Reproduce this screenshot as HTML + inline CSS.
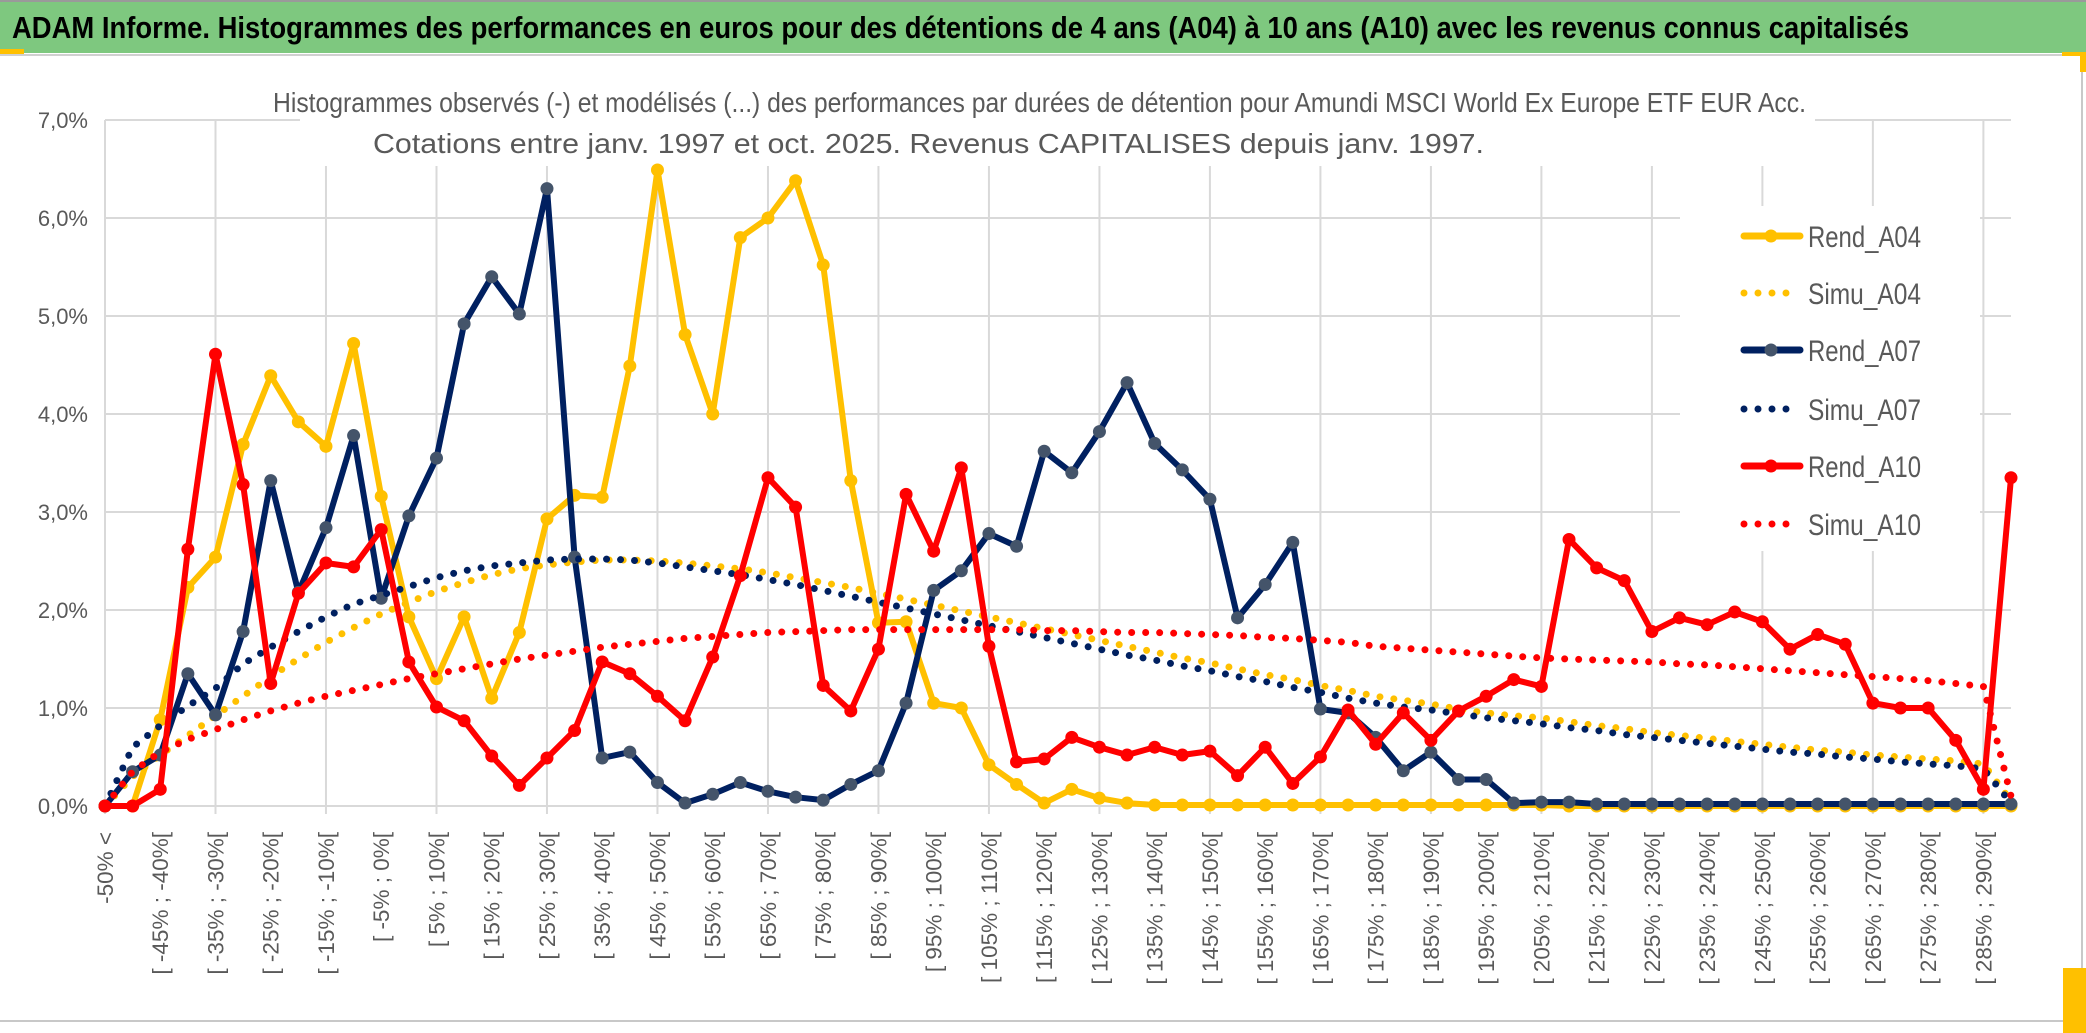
<!DOCTYPE html>
<html><head><meta charset="utf-8"><style>
html,body{margin:0;padding:0;background:#fff;}
svg{display:block;font-family:"Liberation Sans",sans-serif;}
</style></head><body>
<svg id="chart" width="2086" height="1033" viewBox="0 0 2086 1033" xmlns="http://www.w3.org/2000/svg">
<rect x="0" y="0" width="2086" height="1033" fill="#fff"/>
<rect x="0" y="0" width="2086" height="53" fill="#7ec87f"/>
<line x1="0" y1="1" x2="2086" y2="1" stroke="#9a9a9a" stroke-width="2"/>
<rect x="0" y="49" width="24" height="5" fill="#ffc000"/>
<line x1="0" y1="55" x2="2080" y2="55" stroke="#d0d0d0" stroke-width="2"/>
<line x1="2082" y1="55" x2="2082" y2="1020" stroke="#c8c8c8" stroke-width="2"/>
<line x1="0" y1="1021" x2="2075" y2="1021" stroke="#c8c8c8" stroke-width="2"/>
<rect x="2063" y="968" width="23" height="65" fill="#ffc000"/>
<rect x="2062" y="52" width="24" height="4" fill="#ffc000"/>
<rect x="2080" y="52" width="6" height="20" fill="#ffc000"/>
<text x="12" y="38" font-size="31" font-weight="bold" fill="#000" textLength="1897" lengthAdjust="spacingAndGlyphs">ADAM Informe. Histogrammes des performances en euros pour des détentions de 4 ans (A04) à 10 ans (A10) avec les revenus connus capitalisés</text>
<g id="grid"></g>
<rect x="300" y="70" width="1515" height="96" fill="#fff"/>
<rect x="1680" y="206" width="300" height="345" fill="#fff"/>
<text x="273" y="112" font-size="28" fill="#595959" textLength="1533" lengthAdjust="spacingAndGlyphs">Histogrammes observés (-) et modélisés (...) des performances par durées de détention pour Amundi MSCI World Ex Europe ETF EUR Acc.</text>
<text x="373" y="153" font-size="28" fill="#595959" textLength="1111" lengthAdjust="spacingAndGlyphs">Cotations entre janv. 1997 et oct. 2025. Revenus CAPITALISES depuis janv. 1997.</text>
<g id="yaxis"></g>
<g id="xaxis"></g>
<g id="series"></g>
<g id="legend"></g>
</svg>
<script>
const yTicks = [0,1,2,3,4,5,6,7];
const yTickLabels = ["0,0%","1,0%","2,0%","3,0%","4,0%","5,0%","6,0%","7,0%"];
const categories = ["-50% <"];
for (let k = -50; k < 295; k += 5) categories.push("[ " + k + "% ; " + (k + 5) + "%[");
const rendA04 = [0,0,0.88,2.23,2.54,3.69,4.39,3.92,3.67,4.72, 3.16,1.93,1.3,1.93,1.1,1.77,2.93,3.17,3.15,4.49, 6.49,4.81,4.0,5.8,6.0,6.38,5.52,3.32,1.87,1.88, 1.05,1.0,0.42,0.22,0.03,0.17,0.08,0.03,0.01,0.01, 0.01,0.01,0.01,0.01,0.01,0.01,0.01,0.01,0.01,0.01, 0.01,0.01,0.01,0,0,0,0,0,0,0, 0,0,0,0,0,0,0,0,0,0];
const simuA04 = [0,0.3,0.52,0.72,0.92,1.12,1.32,1.5,1.67,1.82, 1.96,2.08,2.19,2.28,2.36,2.42,2.46,2.49,2.51,2.51, 2.5,2.48,2.45,2.42,2.38,2.33,2.28,2.23,2.17,2.11, 2.05,1.99,1.93,1.87,1.81,1.75,1.69,1.63,1.57,1.51, 1.46,1.4,1.34,1.29,1.23,1.18,1.12,1.08,1.04,0.99, 0.95,0.92,0.9,0.86,0.82,0.79,0.75,0.72,0.69,0.66, 0.63,0.6,0.57,0.55,0.52,0.5,0.48,0.46,0.43,0.05];
const rendA07 = [0,0.35,0.52,1.35,0.93,1.78,3.32,2.18,2.84,3.78, 2.12,2.96,3.55,4.92,5.4,5.02,6.3,2.54,0.49,0.55, 0.24,0.03,0.12,0.24,0.15,0.09,0.06,0.22,0.36,1.05, 2.2,2.4,2.78,2.65,3.62,3.4,3.82,4.32,3.7,3.43, 3.13,1.92,2.26,2.69,0.99,0.95,0.7,0.36,0.55,0.27, 0.27,0.03,0.04,0.04,0.02,0.02,0.02,0.02,0.02,0.02, 0.02,0.02,0.02,0.02,0.02,0.02,0.02,0.02,0.02,0.02];
const simuA07 = [0,0.6,0.82,1.02,1.2,1.45,1.62,1.78,1.93,2.06, 2.15,2.24,2.33,2.4,2.45,2.48,2.51,2.52,2.52,2.51, 2.48,2.44,2.4,2.36,2.31,2.26,2.2,2.14,2.08,2.02, 1.96,1.9,1.84,1.78,1.72,1.66,1.6,1.54,1.49,1.43, 1.38,1.32,1.27,1.21,1.16,1.1,1.05,1.01,0.98,0.94, 0.9,0.87,0.84,0.8,0.77,0.73,0.7,0.67,0.64,0.61, 0.58,0.55,0.53,0.5,0.48,0.45,0.43,0.41,0.38,0.03];
const rendA10 = [0,0,0.17,2.62,4.61,3.28,1.25,2.17,2.48,2.44, 2.82,1.47,1.01,0.87,0.51,0.21,0.49,0.77,1.47,1.35, 1.12,0.87,1.52,2.35,3.35,3.05,1.23,0.97,1.6,3.18, 2.6,3.45,1.63,0.45,0.48,0.7,0.6,0.52,0.6,0.52, 0.56,0.31,0.6,0.23,0.5,0.98,0.63,0.95,0.67,0.97, 1.12,1.29,1.22,2.72,2.43,2.3,1.78,1.92,1.85,1.98, 1.88,1.6,1.75,1.65,1.05,1.0,1.0,0.67,0.17,3.35];
const simuA10 = [0,0.35,0.55,0.68,0.78,0.88,0.97,1.05,1.12,1.18, 1.24,1.3,1.35,1.4,1.45,1.5,1.54,1.58,1.62,1.65, 1.68,1.71,1.73,1.75,1.77,1.78,1.79,1.8,1.8,1.8, 1.8,1.8,1.8,1.8,1.79,1.79,1.78,1.77,1.77,1.76, 1.75,1.74,1.72,1.71,1.69,1.67,1.63,1.61,1.59,1.57, 1.55,1.53,1.51,1.5,1.49,1.48,1.47,1.45,1.44,1.42, 1.4,1.38,1.36,1.34,1.32,1.3,1.28,1.25,1.22,0.1];
const seriesNames = ["Rend_A04","Simu_A04","Rend_A07","Simu_A07","Rend_A10","Simu_A10"];

const NS = "http://www.w3.org/2000/svg";
const X0 = 105, X1 = 2011, Y0 = 806, Y7 = 120;
function xPos(i){ return X0 + i * (X1 - X0) / (categories.length - 1); }
function yPos(v){ return Y0 - v * (Y0 - Y7) / 7; }
function mk(tag, attrs, parent){
  const e = document.createElementNS(NS, tag);
  for (const k in attrs) e.setAttribute(k, attrs[k]);
  parent.appendChild(e); return e;
}
const grid = document.getElementById("grid");
yTicks.forEach(t => {
  const l = mk("line", {x1:X0, x2:X1, y1:yPos(t), y2:yPos(t), stroke:"#d9d9d9", "stroke-width":2}, grid);
  
  
});
for (let i = 0; i < categories.length; i += 4) {
  const l = mk("line", {x1:xPos(i), x2:xPos(i), y1:Y7, y2:Y0 + 8, stroke:"#d9d9d9", "stroke-width":2}, grid);
  
  
}
const yax = document.getElementById("yaxis");
yTicks.forEach((t, k) => {
  const tx = mk("text", {x:88, y:yPos(t) + 8, "text-anchor":"end", "font-size":22, fill:"#595959"}, yax);
  tx.textContent = yTickLabels[k];
  
  
});
const xax = document.getElementById("xaxis");
categories.forEach((c, i) => {
  if (i % 2) return;
  const x = xPos(i) + 8, y = 832;
  const tx = mk("text", {x:x, y:y, transform:"rotate(-90 " + x + " " + y + ")", "text-anchor":"end", "font-size":22.5, fill:"#595959"}, xax);
  tx.textContent = c;
  
  
});
const ser = document.getElementById("series");
function pts(arr){ return arr.map((v, i) => xPos(i).toFixed(1) + "," + yPos(v).toFixed(1)).join(" "); }
function drawRend(arr, color, mcolor, name){
  const g = mk("g", {}, ser);
  
  
  mk("polyline", {points:pts(arr), fill:"none", stroke:color, "stroke-width":6, "stroke-linejoin":"round"}, g);
  arr.forEach((v, i) => {
    const c = mk("circle", {cx:xPos(i), cy:yPos(v), r:6.5, fill:mcolor}, g);
    
    
  });
}
function drawSimu(arr, color, name){
  const p = mk("polyline", {points:pts(arr), fill:"none", stroke:color, "stroke-width":7, "stroke-linecap":"round", "stroke-dasharray":"0 14"}, ser);
  
  
}
drawRend(rendA04, "#ffc000", "#ffc000", "series-rend-a04");
drawSimu(simuA04, "#ffc000", "series-simu-a04");
drawRend(rendA07, "#002060", "#44546a", "series-rend-a07");
drawSimu(simuA07, "#002060", "series-simu-a07");
drawRend(rendA10, "#ff0000", "#ff0000", "series-rend-a10");
drawSimu(simuA10, "#ff0000", "series-simu-a10");

const leg = document.getElementById("legend");
const legY = [236, 293, 350, 409, 466, 524];
const legCol = ["#ffc000","#ffc000","#002060","#002060","#ff0000","#ff0000"];
const legMk = ["#ffc000",null,"#44546a",null,"#ff0000",null];
seriesNames.forEach((n, k) => {
  const g = mk("g", {}, leg);
  
  
  const y = legY[k];
  if (legMk[k]) {
    mk("line", {x1:1744, x2:1800, y1:y, y2:y, stroke:legCol[k], "stroke-width":7, "stroke-linecap":"round"}, g);
    mk("circle", {cx:1771, cy:y, r:6.5, fill:legMk[k]}, g);
  } else {
    mk("line", {x1:1744, x2:1796, y1:y, y2:y, stroke:legCol[k], "stroke-width":7, "stroke-linecap":"round", "stroke-dasharray":"0 14"}, g);
  }
  const t = mk("text", {x:1808, y:y + 11, "font-size":30, fill:"#595959", textLength:113, lengthAdjust:"spacingAndGlyphs"}, g);
  t.textContent = n;
});
</script>
</body></html>
